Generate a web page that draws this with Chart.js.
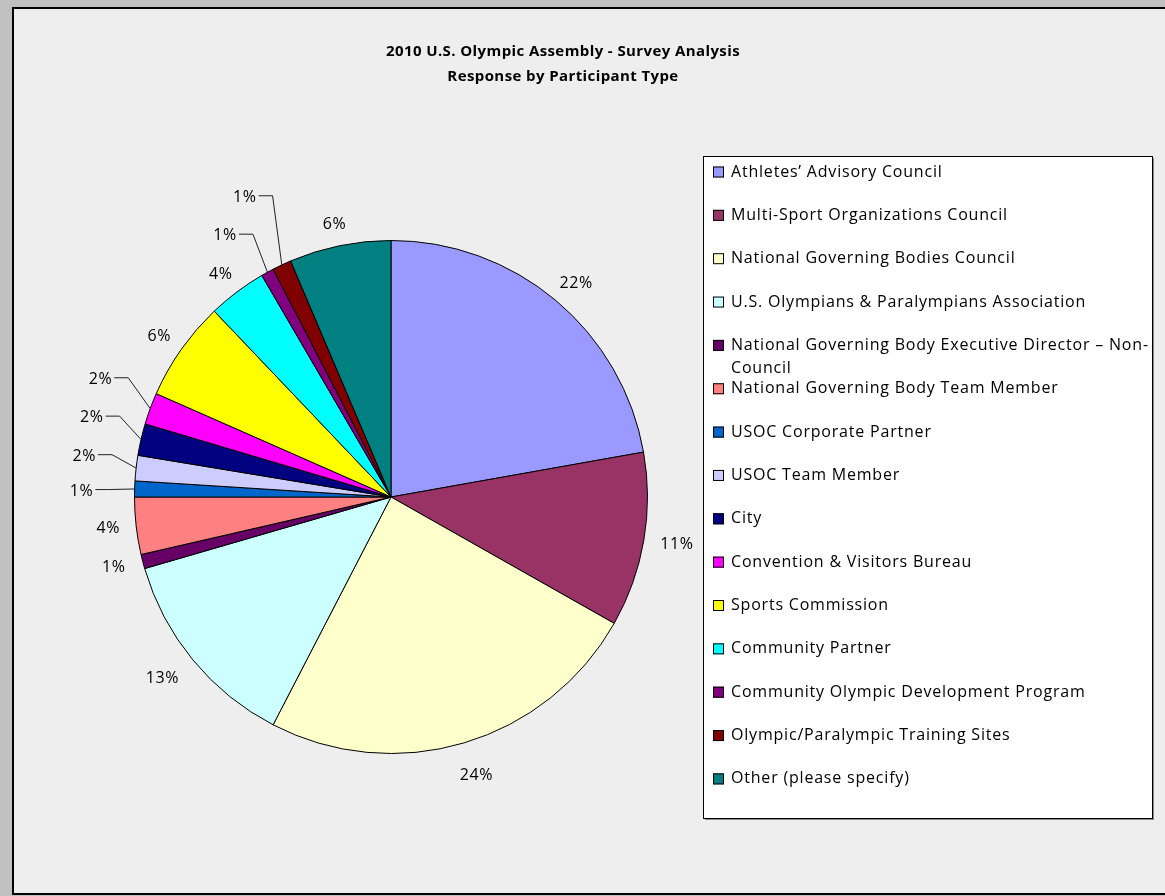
<!DOCTYPE html>
<html>
<head>
<meta charset="utf-8">
<script src="https://cdn.jsdelivr.net/npm/chart.js@4.4.0/dist/chart.umd.min.js"></script>
<style>
html,body{margin:0;padding:0;background:#c0c0c0;}
canvas{display:block;}
</style>
</head>
<body>
<canvas id="c" width="1165" height="896"></canvas>
<script>
// ---- data ----
const titleLines = ["2010 U.S. Olympic Assembly - Survey Analysis", "Response by Participant Type"];
const categories = [
  "Athletes\u2019 Advisory Council",
  "Multi-Sport Organizations Council",
  "National Governing Bodies Council",
  "U.S. Olympians & Paralympians Association",
  "National Governing Body Executive Director \u2013 Non-Council",
  "National Governing Body Team Member",
  "USOC Corporate Partner",
  "USOC Team Member",
  "City",
  "Convention & Visitors Bureau",
  "Sports Commission",
  "Community Partner",
  "Community Olympic Development Program",
  "Olympic/Paralympic Training Sites",
  "Other (please specify)"
];
const values = [22.2, 11.0, 24.4, 12.9, 0.9, 3.6, 1.0, 1.6, 2.0, 2.0, 6.3, 3.7, 0.8, 1.2, 6.4];
const colors = ["#9999FF","#993366","#FFFFCC","#CCFFFF","#660066","#FF8080","#0066CC","#CCCCFF",
                "#000080","#FF00FF","#FFFF00","#00FFFF","#800080","#800000","#008080"];
// label style: extra outward distance / angle turn (deg) for labels that use a leader line
const labelLeaderPush = [0,0,0,0,0,0,53,53,53,57,0,0,53,77,0];
const labelLeaderTurn = [0,0,0,0,0,0,-0.7,1.1,1.9,1.9,0,0,-3.6,-0.8,0];

const FONT = '"Open Sans", "Liberation Sans", sans-serif';

const frame = {
  id: 'frame',
  beforeDraw(chart) {
    const ctx = chart.ctx;
    ctx.save();
    ctx.fillStyle = '#c0c0c0';
    ctx.fillRect(0, 0, chart.width, chart.height);
    ctx.fillStyle = '#eeeeee';
    ctx.fillRect(12, 7, chart.width - 12, 888);
    ctx.strokeStyle = '#000';
    ctx.lineWidth = 2;
    ctx.beginPath();
    ctx.moveTo(chart.width, 8); ctx.lineTo(13, 8); ctx.lineTo(13, 894); ctx.lineTo(chart.width, 894);
    ctx.stroke();
    // title
    ctx.fillStyle = '#000';
    ctx.font = 'bold 15px ' + FONT;
    ctx.letterSpacing = '0.4px';
    ctx.textAlign = 'center';
    ctx.textBaseline = 'middle';
    ctx.fillText(titleLines[0], 563, 52);
    ctx.fillText(titleLines[1], 563, 77);
    ctx.restore();
  }
};

const pctLabels = {
  id: 'pctLabels',
  afterDatasetsDraw(chart) {
    const ctx = chart.ctx;
    const meta = chart.getDatasetMeta(0);
    const total = values.reduce((a, b) => a + b, 0);
    ctx.save();
    ctx.font = '16px ' + FONT;
    ctx.letterSpacing = '0.6px';
    ctx.fillStyle = '#000';
    ctx.textAlign = 'center';
    ctx.textBaseline = 'middle';
    meta.data.forEach((arc, i) => {
      const txt = Math.round(values[i] / total * 100) + '%';
      const mid = (arc.startAngle + arc.endAngle) / 2;
      const dx = Math.cos(mid), dy = Math.sin(mid);
      const R = arc.outerRadius;
      const w = ctx.measureText(txt).width, h = 14;
      const push = labelLeaderPush[i];
      if (push > 0) {
        const la = mid + labelLeaderTurn[i] * Math.PI / 180;
        const cx = arc.x + Math.cos(la) * (R + push);
        const cy = arc.y + Math.sin(la) * (R + push);
        ctx.fillText(txt, cx, cy);
        const sx = cx + w / 2 + 2;
        const ex = arc.x + dx * R, ey = arc.y + dy * R;
        ctx.strokeStyle = '#222';
        ctx.lineWidth = 1;
        ctx.beginPath();
        ctx.moveTo(sx, cy - 1.5);
        ctx.lineTo(sx + 14, cy - 1.5);
        ctx.lineTo(ex, ey);
        ctx.stroke();
      } else {
        const off = 15 + 12 * Math.max(0, dy);
        const ax = arc.x + dx * (R + off);
        const ay = arc.y + dy * (R + off);
        ctx.fillText(txt, ax + dx * w / 2, ay + dy * h / 2);
      }
    });
    ctx.restore();
  }
};

const boxLegend = {
  id: 'boxLegend',
  afterDraw(chart) {
    const ctx = chart.ctx;
    const bx = 703, by = 156, bw = 449, bh = 662;
    ctx.save();
    ctx.fillStyle = '#888';
    ctx.fillRect(bx + 2, by + 2, bw, bh);
    ctx.fillStyle = '#fff';
    ctx.fillRect(bx, by, bw, bh);
    ctx.strokeStyle = '#000';
    ctx.lineWidth = 1;
    ctx.strokeRect(bx + 0.5, by + 0.5, bw, bh);
    ctx.font = '16px ' + FONT;
    ctx.letterSpacing = '0.8px';
    ctx.textBaseline = 'middle';
    ctx.textAlign = 'left';
    const tx = 731, maxW = 424;
    categories.forEach((name, i) => {
      const y = 172 + i * 43.35;
      ctx.fillStyle = colors[i];
      ctx.fillRect(713, y - 5.5, 11, 11);
      ctx.strokeStyle = '#000';
      ctx.strokeRect(713.5, y - 5, 10, 10);
      // wrap text: break after spaces or hyphens
      const parts = name.match(/[^\s-]+-?\s*|\s+/g);
      let lines = [], cur = '';
      parts.forEach(p => {
        const test = cur + p;
        if (ctx.measureText(test.trimEnd()).width > maxW && cur) {
          lines.push(cur.trimEnd());
          cur = p;
        } else cur = test;
      });
      lines.push(cur.trimEnd());
      ctx.fillStyle = '#000';
      lines.forEach((ln, k) => ctx.fillText(ln, tx, y + k * 23));
    });
    ctx.restore();
  }
};

new Chart(document.getElementById('c'), {
  type: 'pie',
  data: {
    labels: categories,
    datasets: [{
      data: values,
      backgroundColor: colors,
      borderColor: '#000',
      borderWidth: 1
    }]
  },
  options: {
    responsive: false,
    animation: false,
    devicePixelRatio: 1,
    layout: { padding: { left: 134, right: 517, top: 240, bottom: 142 } },
    plugins: {
      legend: { display: false },
      tooltip: { enabled: false },
      title: { display: false }
    }
  },
  plugins: [frame, pctLabels, boxLegend]
});
</script>
</body>
</html>
